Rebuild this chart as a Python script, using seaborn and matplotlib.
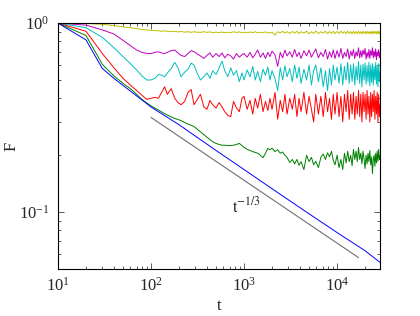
import matplotlib
matplotlib.use("Agg")
import matplotlib.pyplot as plt
import numpy as np
import pandas as pd
import seaborn as sns

# shared time grid for the noisy curves
T = [10, 20, 30, 40, 50, 60, 70, 80, 90, 100,
     110, 120, 130, 140, 150, 165, 180, 195, 210, 230,
     250, 270, 290, 310, 340, 370, 400, 430, 460, 500,
     540, 580, 620, 670, 720, 770, 830, 890, 950,
     1000, 1080, 1160, 1240, 1320, 1400, 1500, 1600, 1700, 1800,
     1900, 2000, 2150, 2300, 2450, 2600, 2750, 2900, 3100, 3300,
     3500, 3700, 3900, 4100, 4400, 4700, 5000, 5300, 5600, 5900,
     6300, 6700, 7100, 7500, 7900, 8300, 8700, 9100, 9500,
     10000, 10500, 11000, 11500, 12000, 12500, 13000, 13500, 14000, 14500,
     15000, 15500, 16000, 16500, 17000, 17500, 18000, 18500, 19000, 19500,
     20000, 20500, 21000, 21500, 22000, 22500, 23000, 23500, 24000, 24500,
     25000, 25500, 26000, 26500, 27000, 27500, 28000, 28500, 29000]

yellow = [1.0, 0.995, 0.985, 0.97, 0.955, 0.945, 0.935, 0.925, 0.92, 0.915,
          0.912, 0.91, 0.905, 0.91, 0.905, 0.9, 0.905, 0.898, 0.902, 0.895,
          0.9, 0.893, 0.9, 0.895, 0.893, 0.9, 0.893, 0.898, 0.89, 0.895,
          0.89, 0.897, 0.888, 0.895, 0.89, 0.9, 0.892, 0.898, 0.888,
          0.895, 0.888, 0.897, 0.89, 0.9, 0.887, 0.895, 0.889, 0.898, 0.89,
          0.885, 0.895, 0.865, 0.9, 0.888, 0.905, 0.885, 0.9, 0.882, 0.903,
          0.885, 0.905, 0.88, 0.9, 0.885, 0.905, 0.878, 0.9, 0.882, 0.907,
          0.88, 0.9, 0.884, 0.906, 0.878, 0.902, 0.882, 0.905, 0.88,
          0.903, 0.88, 0.905, 0.884, 0.9, 0.878, 0.906, 0.882, 0.9, 0.876,
          0.904, 0.88, 0.902, 0.878, 0.905, 0.883, 0.9, 0.877, 0.906, 0.881,
          0.901, 0.878, 0.905, 0.882, 0.9, 0.876, 0.904, 0.88, 0.902, 0.879,
          0.906, 0.883, 0.9, 0.877, 0.905, 0.88, 0.903, 0.878, 0.9]

magenta = [1.0, 0.975, 0.92, 0.875, 0.81, 0.76, 0.72, 0.70, 0.69, 0.69,
           0.70, 0.705, 0.695, 0.69, 0.70, 0.715, 0.72, 0.695, 0.675, 0.665,
           0.69, 0.715, 0.705, 0.69, 0.67, 0.65, 0.675, 0.695, 0.66, 0.69,
           0.665, 0.695, 0.655, 0.685, 0.67, 0.645, 0.69, 0.66, 0.68,
           0.69, 0.66, 0.70, 0.655, 0.685, 0.72, 0.66, 0.695, 0.65, 0.70,
           0.665, 0.71, 0.68, 0.59, 0.70, 0.655, 0.72, 0.67, 0.705, 0.66,
           0.725, 0.665, 0.70, 0.65, 0.715, 0.67, 0.72, 0.66, 0.695, 0.73,
           0.655, 0.70, 0.665, 0.725, 0.645, 0.705, 0.66, 0.72, 0.65,
           0.715, 0.66, 0.735, 0.65, 0.70, 0.665, 0.73, 0.645, 0.71, 0.67,
           0.725, 0.65, 0.705, 0.67, 0.74, 0.655, 0.715, 0.66, 0.72, 0.68,
           0.735, 0.645, 0.70, 0.66, 0.725, 0.65, 0.715, 0.675, 0.74, 0.655,
           0.71, 0.665, 0.73, 0.64, 0.705, 0.67, 0.725, 0.655, 0.69]

cyan = [1.0, 0.945, 0.84, 0.74, 0.665, 0.61, 0.565, 0.525, 0.50, 0.50,
        0.51, 0.535, 0.53, 0.52, 0.545, 0.575, 0.62, 0.58, 0.52, 0.55,
        0.57, 0.615, 0.60, 0.55, 0.50, 0.52, 0.545, 0.51, 0.56, 0.535,
        0.58, 0.63, 0.56, 0.52, 0.58, 0.53, 0.56, 0.49, 0.545,
        0.50, 0.565, 0.52, 0.59, 0.50, 0.555, 0.49, 0.57, 0.53, 0.585,
        0.50, 0.56, 0.51, 0.44, 0.58, 0.50, 0.595, 0.52, 0.575, 0.49,
        0.60, 0.51, 0.585, 0.48, 0.57, 0.50, 0.60, 0.47, 0.56, 0.60,
        0.49, 0.58, 0.46, 0.56, 0.44, 0.575, 0.47, 0.60, 0.50,
        0.585, 0.48, 0.61, 0.47, 0.59, 0.50, 0.62, 0.48, 0.60, 0.49,
        0.61, 0.47, 0.59, 0.50, 0.625, 0.48, 0.60, 0.46, 0.605, 0.50,
        0.615, 0.475, 0.595, 0.49, 0.62, 0.465, 0.60, 0.485, 0.61, 0.47,
        0.59, 0.50, 0.62, 0.475, 0.60, 0.46, 0.61, 0.49, 0.55]

red = [1.0, 0.905, 0.69, 0.58, 0.51, 0.47, 0.44, 0.415, 0.395, 0.40,
       0.405, 0.40, 0.43, 0.46, 0.42, 0.45, 0.40, 0.38, 0.37, 0.385,
       0.43, 0.445, 0.37, 0.39, 0.42, 0.36, 0.35, 0.39, 0.37, 0.355,
       0.38, 0.36, 0.34, 0.325, 0.32, 0.385, 0.355, 0.34, 0.40,
       0.41, 0.35, 0.39, 0.33, 0.40, 0.355, 0.42, 0.34, 0.385, 0.345,
       0.40, 0.35, 0.43, 0.31, 0.39, 0.34, 0.42, 0.33, 0.40, 0.35,
       0.42, 0.32, 0.40, 0.34, 0.43, 0.33, 0.41, 0.35, 0.30, 0.42,
       0.33, 0.41, 0.32, 0.43, 0.34, 0.40, 0.31, 0.42, 0.33,
       0.43, 0.32, 0.41, 0.30, 0.42, 0.34, 0.44, 0.31, 0.42, 0.33,
       0.43, 0.31, 0.41, 0.33, 0.44, 0.32, 0.42, 0.30, 0.43, 0.34,
       0.42, 0.31, 0.44, 0.33, 0.41, 0.30, 0.43, 0.32, 0.42, 0.34,
       0.44, 0.31, 0.41, 0.33, 0.43, 0.30, 0.42, 0.32, 0.37]

green = [1.0, 0.86, 0.605, 0.525, 0.48, 0.45, 0.42, 0.395, 0.378, 0.365,
         0.355, 0.347, 0.339, 0.332, 0.326, 0.319, 0.313, 0.309, 0.305, 0.298,
         0.292, 0.288, 0.284, 0.276, 0.266, 0.257, 0.249, 0.242, 0.236, 0.231,
         0.228, 0.226, 0.226, 0.225, 0.225, 0.226, 0.228, 0.231, 0.225,
         0.22, 0.215, 0.212, 0.209, 0.207, 0.205, 0.20, 0.194, 0.205, 0.217,
         0.214, 0.218, 0.209, 0.214, 0.205, 0.208, 0.20, 0.195, 0.183, 0.19,
         0.18, 0.19, 0.177, 0.185, 0.168, 0.20, 0.185, 0.195, 0.178, 0.186,
         0.172, 0.195, 0.203, 0.19, 0.206, 0.196, 0.21, 0.188, 0.178,
         0.20, 0.172, 0.19, 0.168, 0.205, 0.182, 0.21, 0.185, 0.20, 0.176,
         0.215, 0.19, 0.21, 0.185, 0.22, 0.19, 0.205, 0.18, 0.21, 0.19,
         0.17, 0.20, 0.18, 0.205, 0.185, 0.212, 0.178, 0.196, 0.16, 0.19,
         0.20, 0.175, 0.205, 0.182, 0.21, 0.186, 0.215, 0.19, 0.198]

T_blue = [10, 20, 30, 40, 50, 60, 70, 80, 90, 100, 200, 500, 1000, 2000,
          5000, 10000, 20000, 29000]
blue = [1.0, 0.815, 0.575, 0.51, 0.468, 0.437, 0.412, 0.392, 0.375, 0.36,
        0.29, 0.212, 0.168, 0.133, 0.098, 0.078, 0.0625, 0.0542]

ref_t = [100, 17000]
ref_F = [0.317, 0.0575]

series = [("yellow", T, yellow, "#BFBF00"),
          ("magenta", T, magenta, "#BF00BF"),
          ("cyan", T, cyan, "#00BFBF"),
          ("red", T, red, "#FF0000"),
          ("green", T, green, "#008000"),
          ("blue", T_blue, blue, "#0000FF")]

frames = []
for name, tt, ff, _ in series:
    n = min(len(tt), len(ff))
    frames.append(pd.DataFrame({"t": tt[:n], "F": ff[:n], "s": name}))
df = pd.concat(frames, ignore_index=True)
palette = {name: c for name, _, _, c in series}

sns.set_style("ticks")
plt.rcParams["font.family"] = ["Liberation Serif", "DejaVu Serif"]
plt.rcParams["mathtext.fontset"] = "stix"

fig = plt.figure(figsize=(4.2, 3.16), dpi=100)
ax = fig.add_axes([0.138, 0.149, 0.767, 0.778])

sns.lineplot(data=df, x="t", y="F", hue="s", palette=palette,
             estimator=None, sort=False, legend=False, lw=0.7, ax=ax)
sns.lineplot(x=ref_t, y=ref_F, color="#707070", lw=0.8, ax=ax)

ax.set_xscale("log")
ax.set_yscale("log")
ax.set_xlim(10, 29000)
ax.set_ylim(0.0501, 1.0)

ax.text(740, 0.1, r"$\mathrm{t}^{-1/3}$", fontsize=12, ha="left", va="baseline")

ax.set_xlabel("t", fontsize=12, labelpad=2)
ax.set_ylabel("F", fontsize=12)
ax.yaxis.set_label_coords(-0.118, 0.5)

ax.tick_params(which="both", direction="in", top=True, right=True,
               labelsize=12, width=0.6, color="#404040")
ax.tick_params(which="major", length=4.5, pad=6)
ax.tick_params(which="minor", length=2.5)
for sp in ax.spines.values():
    sp.set_linewidth(0.8)
    sp.set_color("black")

fig.savefig("out.png", dpi=100)
